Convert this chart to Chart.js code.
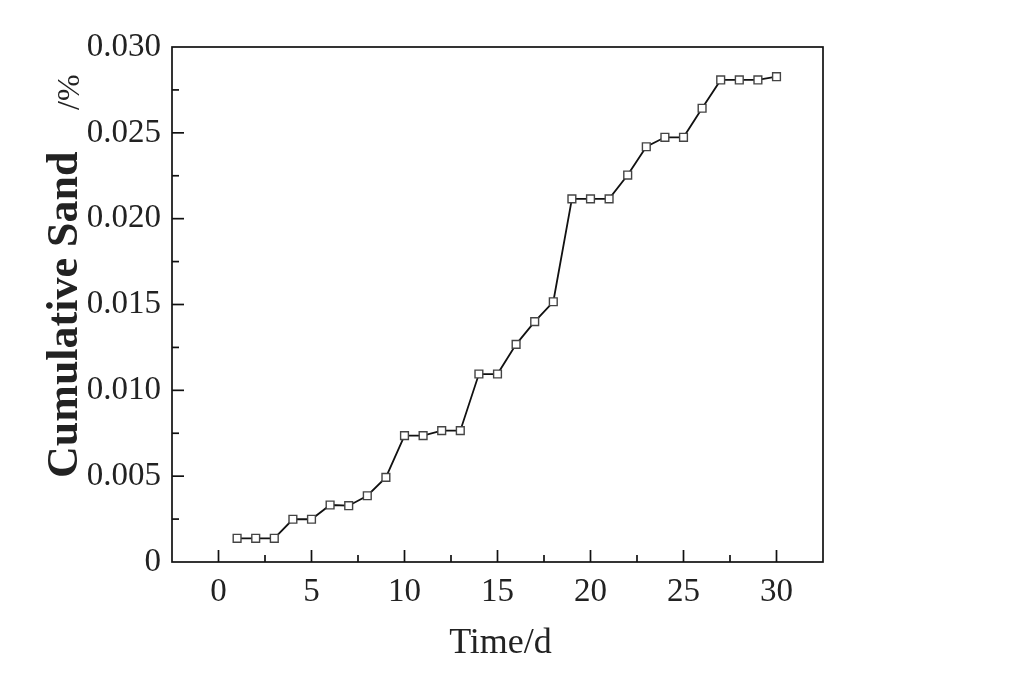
<!DOCTYPE html>
<html>
<head>
<meta charset="utf-8">
<script src="https://cdn.jsdelivr.net/npm/chart.js@4"></script>
<style>
  html, body { margin: 0; padding: 0; background: #fff; }
  #wrap { width: 1024px; height: 683px; }
</style>
</head>
<body>
<div id="wrap"><canvas id="sandChart" width="1024" height="683"></canvas></div>
<script>
// days and cumulative sand values
const days = [1, 2, 3, 4, 5, 6, 7, 8, 9, 10, 11, 12, 13, 14, 15,
              16, 17, 18, 19, 20, 21, 22, 23, 24, 25, 26, 27, 28, 29, 30];
const sandValues = [0.00138, 0.00138, 0.00138, 0.00249, 0.00249, 0.00332, 0.00328, 0.00386, 0.00493, 0.00736,
                    0.00736, 0.00765, 0.00765, 0.01095, 0.01095, 0.01268, 0.0140, 0.01516, 0.02115, 0.02115,
                    0.02115, 0.02254, 0.02419, 0.02474, 0.02474, 0.02643, 0.02808, 0.02808, 0.02808, 0.02827];

const xMajorLabels = [0, 5, 10, 15, 20, 25, 30];
const yMajorLabels = ["0", "0.005", "0.010", "0.015", "0.020", "0.025", "0.030"];

const xTitle = "Time/d";
const yTitle = "Cumulative Sand";
const yUnit = "/%";

const textColor = "#222";
const serif = "'Liberation Serif', 'Times New Roman', serif";

// frame, inward ticks and axis titles
const framePlugin = {
  id: "frame",
  afterDraw(chart) {
    const c = chart.ctx;
    const a = chart.chartArea;
    const xs = chart.scales.x;
    const ys = chart.scales.y;
    c.save();
    c.strokeStyle = "#111";
    c.lineWidth = 1.7;
    c.strokeRect(a.left, a.top, a.right - a.left, a.bottom - a.top);

    // x ticks (inside, on bottom)
    xs.ticks.forEach(function (t) {
      const px = xs.getPixelForValue(t.value);
      if (px <= a.left + 1 || px >= a.right - 1) return;
      const major = xMajorLabels.indexOf(t.value) !== -1;
      c.beginPath();
      c.moveTo(px, a.bottom);
      c.lineTo(px, a.bottom - (major ? 12 : 7));
      c.stroke();
    });
    // y ticks (inside, on left)
    ys.ticks.forEach(function (t, i) {
      const py = ys.getPixelForValue(t.value);
      if (py <= a.top + 1 || py >= a.bottom - 1) return;
      const major = i % 2 === 0;
      c.beginPath();
      c.moveTo(a.left, py);
      c.lineTo(a.left + (major ? 12 : 7), py);
      c.stroke();
    });

    // x title
    c.fillStyle = textColor;
    c.font = "36px " + serif;
    c.textAlign = "center";
    c.textBaseline = "alphabetic";
    c.fillText(xTitle, (a.left + a.right) / 2 + 3, 653);

    // y title, rotated
    c.translate(77, 478);
    c.rotate(-Math.PI / 2);
    c.textAlign = "left";
    c.font = "bold 44px " + serif;
    c.fillText(yTitle, 0, 0);
    c.font = "32px " + serif;
    c.fillText(yUnit, 368, 2);
    c.restore();
  }
};

const data = {
  datasets: [
    {
      label: yTitle,
      data: days.map(function (d, i) { return { x: d, y: sandValues[i] }; }),
      borderColor: "#111",
      borderWidth: 1.8,
      pointStyle: "rect",
      pointRadius: 5.5,
      pointBorderWidth: 1.4,
      pointBorderColor: "#444",
      pointBackgroundColor: "#fff",
      tension: 0
    }
  ]
};

const config = {
  type: "line",
  data: data,
  options: {
    responsive: false,
    animation: false,
    layout: { padding: { top: 47, right: 201, left: 0, bottom: 0 } },
    plugins: {
      legend: { display: false },
      tooltip: { enabled: false }
    },
    scales: {
      x: {
        type: "linear",
        min: -2.5,
        max: 32.5,
        grid: { display: false, drawTicks: false },
        border: { display: false },
        ticks: {
          stepSize: 2.5,
          autoSkip: false,
          maxRotation: 0,
          padding: 11,
          color: textColor,
          font: { family: serif, size: 33 },
          callback: function (v) {
            return xMajorLabels.indexOf(v) !== -1 ? String(v) : "";
          }
        },
        afterFit: function (scale) { scale.height = 121; }
      },
      y: {
        min: 0,
        max: 0.03,
        grid: { display: false, drawTicks: false },
        border: { display: false },
        ticks: {
          stepSize: 0.0025,
          autoSkip: false,
          padding: 11,
          color: textColor,
          font: { family: serif, size: 33 },
          callback: function (v, i) {
            return i % 2 === 0 ? yMajorLabels[i / 2] : "";
          }
        },
        afterFit: function (scale) { scale.width = 172; }
      }
    }
  },
  plugins: [framePlugin]
};

const sandChart = new Chart(document.getElementById("sandChart"), config);
</script>
</body>
</html>
